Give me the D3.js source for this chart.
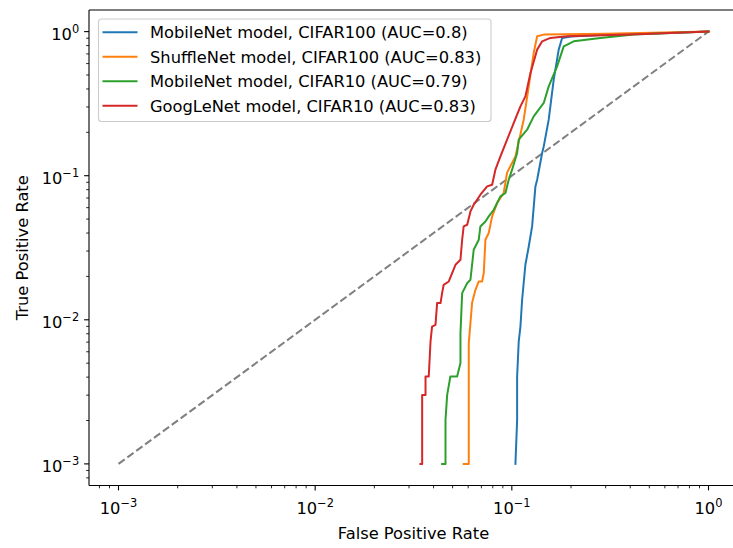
<!DOCTYPE html>
<html>
<head>
<meta charset="utf-8">
<script src="https://cdn.jsdelivr.net/npm/d3@7/dist/d3.min.js"></script>
<style>
  body { margin: 0; background: #fff; }
  svg { display: block; font-family: "DejaVu Sans", sans-serif; }
</style>
</head>
<body>
<svg id="chart" width="733" height="548"></svg>
<script>
// ROC curves (false positive rate, true positive rate), plotted on log-log axes
const seriesNames = [
  "MobileNet model, CIFAR100 (AUC=0.8)",
  "ShuffleNet model, CIFAR100 (AUC=0.83)",
  "MobileNet model, CIFAR10 (AUC=0.79)",
  "GoogLeNet model, CIFAR10 (AUC=0.83)"
];
const seriesColors = ["#1f77b4", "#ff7f0e", "#2ca02c", "#d62728"];

const mobilenetC100 = [
  [0.1043, 0.001], [0.1064, 0.00202], [0.1064, 0.00404], [0.1084, 0.00707],
  [0.1106, 0.00898], [0.1128, 0.01377], [0.1172, 0.02409], [0.1219, 0.03228],
  [0.1268, 0.04445], [0.1318, 0.0843], [0.1345, 0.0938], [0.1426, 0.1438],
  [0.1453, 0.1598], [0.1540, 0.2448], [0.1633, 0.4642], [0.1731, 0.7499],
  [0.1802, 0.9043], [0.2, 0.925], [0.3, 0.95], [0.5, 0.97], [1, 1]
];
const shufflenetC100 = [
  [0.0569, 0.001], [0.0604, 0.001], [0.0604, 0.00689], [0.0628, 0.01313],
  [0.0653, 0.01615], [0.0679, 0.01845], [0.0706, 0.01845], [0.0720, 0.0211],
  [0.0734, 0.03594], [0.0763, 0.0400], [0.0794, 0.05217], [0.0842, 0.06462],
  [0.0909, 0.07585], [0.0946, 0.105], [0.1043, 0.1361], [0.1149, 0.2448],
  [0.1219, 0.4170], [0.1292, 0.7112], [0.1345, 0.9278], [0.1453, 0.9532],
  [0.3, 0.965], [1, 1]
];
const mobilenetC10 = [
  [0.0442, 0.001], [0.0460, 0.001], [0.0460, 0.00202], [0.0469, 0.00301],
  [0.0487, 0.00404], [0.0527, 0.00404], [0.0548, 0.00501], [0.0548, 0.00808],
  [0.0559, 0.01532], [0.0593, 0.01798], [0.0616, 0.01896], [0.0640, 0.03063],
  [0.0679, 0.03594], [0.0692, 0.04445], [0.0734, 0.04815], [0.0763, 0.05217],
  [0.0809, 0.05806], [0.0875, 0.07184], [0.0928, 0.07585], [0.0964, 0.0938],
  [0.1003, 0.1101], [0.1064, 0.1438], [0.1084, 0.1778], [0.1196, 0.2086],
  [0.1292, 0.2581], [0.1453, 0.3198], [0.1540, 0.4170], [0.1699, 0.5741],
  [0.1836, 0.7903], [0.2064, 0.8562], [0.2821, 0.9043], [0.4166, 0.9532],
  [1, 1]
];
const googlenetC10 = [
  [0.0343, 0.001], [0.0350, 0.001], [0.0350, 0.00301], [0.0364, 0.00301],
  [0.0364, 0.00404], [0.0378, 0.00404], [0.0386, 0.00707], [0.0393, 0.00898],
  [0.0409, 0.00923], [0.0417, 0.01306], [0.0434, 0.01306], [0.0442, 0.01532],
  [0.0450, 0.01749], [0.0478, 0.01845], [0.0517, 0.02409], [0.0548, 0.0261],
  [0.0559, 0.03594], [0.0569, 0.04445], [0.0593, 0.04567], [0.0616, 0.0565],
  [0.0640, 0.06289], [0.0692, 0.07382], [0.0749, 0.08426], [0.0794, 0.0866],
  [0.0825, 0.1101], [0.0875, 0.1361], [0.0946, 0.1778], [0.1023, 0.2323],
  [0.1106, 0.3029], [0.1172, 0.3554], [0.1244, 0.5167], [0.1345, 0.7499],
  [0.1426, 0.8562], [0.1571, 0.9043], [0.1910, 0.9278], [0.4, 0.955],
  [1, 1]
];
const seriesData = [mobilenetC100, shufflenetC100, mobilenetC10, googlenetC10];

// chance line
const diagonal = [[0.001, 0.001], [1, 1]];

const majorTicks = [1e-3, 1e-2, 1e-1, 1];
const tickExponents = ["−3", "−2", "−1", "0"];

// layout
const plotLeft = 89, plotRight = 738, plotTop = 10, plotBottom = 485.5;
const pad = 0.05 * 3; // 5% margin in decades on each side
const fontSize = 16.3;

const x = d3.scaleLog()
  .domain([Math.pow(10, -3 - pad), Math.pow(10, pad)])
  .range([plotLeft, plotRight]);
const y = d3.scaleLog()
  .domain([Math.pow(10, -3 - pad), Math.pow(10, pad)])
  .range([plotBottom, plotTop]);

const svg = d3.select("#chart");

// minor ticks: 2..9 times each decade within the domain
const minorTicks = [];
for (let e = -4; e <= 0; e++) {
  for (let m = 2; m <= 9; m++) {
    const v = m * Math.pow(10, e);
    if (v > x.domain()[0] && v < x.domain()[1]) minorTicks.push(v);
  }
}

svg.append("defs").append("clipPath").attr("id", "plotArea")
  .append("rect").attr("x", plotLeft).attr("y", plotTop)
  .attr("width", plotRight - plotLeft).attr("height", plotBottom - plotTop);

const plot = svg.append("g").attr("clip-path", "url(#plotArea)");

const line = d3.line().x(d => x(d[0])).y(d => y(d[1]));

plot.append("path")
  .datum(diagonal)
  .attr("d", line)
  .attr("fill", "none")
  .attr("stroke", "#808080")
  .attr("stroke-width", 2)
  .attr("stroke-dasharray", "7.7,3.3");

seriesData.forEach((data, i) => {
  plot.append("path")
    .datum(data)
    .attr("d", line)
    .attr("fill", "none")
    .attr("stroke", seriesColors[i])
    .attr("stroke-width", 2)
    .attr("stroke-linejoin", "round")
    .attr("stroke-linecap", "square");
});

// axes frame
const frame = svg.append("g").attr("stroke", "#000").attr("stroke-width", 1.1);
frame.append("line").attr("x1", plotLeft).attr("x2", plotLeft).attr("y1", plotTop).attr("y2", plotBottom);
frame.append("line").attr("x1", plotLeft).attr("x2", plotRight).attr("y1", plotBottom).attr("y2", plotBottom);
frame.append("line").attr("x1", plotLeft).attr("x2", plotRight).attr("y1", plotTop).attr("y2", plotTop);
frame.append("line").attr("x1", plotRight).attr("x2", plotRight).attr("y1", plotTop).attr("y2", plotBottom);

// ticks
const ticks = svg.append("g").attr("stroke", "#000").attr("stroke-width", 1.1);
majorTicks.forEach(v => {
  ticks.append("line").attr("x1", x(v)).attr("x2", x(v)).attr("y1", plotBottom).attr("y2", plotBottom + 4.9);
  ticks.append("line").attr("x1", plotLeft).attr("x2", plotLeft - 4.9).attr("y1", y(v)).attr("y2", y(v));
});
const minorG = svg.append("g").attr("stroke", "#000").attr("stroke-width", 0.85);
minorTicks.forEach(v => {
  minorG.append("line").attr("x1", x(v)).attr("x2", x(v)).attr("y1", plotBottom).attr("y2", plotBottom + 2.8);
  minorG.append("line").attr("x1", plotLeft).attr("x2", plotLeft - 2.8).attr("y1", y(v)).attr("y2", y(v));
});

// tick labels with superscript exponents
function powerLabel(sel, exp) {
  sel.append("tspan").text("10");
  sel.append("tspan").attr("dy", -7).attr("font-size", (fontSize * 0.7) + "px").text(exp);
}
majorTicks.forEach((v, i) => {
  const tx = svg.append("text")
    .attr("x", x(v)).attr("y", 514)
    .attr("text-anchor", "middle")
    .attr("font-size", fontSize + "px").attr("fill", "#000");
  powerLabel(tx, tickExponents[i]);
  const ty = svg.append("text")
    .attr("x", plotLeft - 9.8).attr("y", y(v) + 8)
    .attr("text-anchor", "end")
    .attr("font-size", fontSize + "px").attr("fill", "#000");
  powerLabel(ty, tickExponents[i]);
});

// axis titles
svg.append("text")
  .attr("x", (plotLeft + plotRight) / 2).attr("y", 539)
  .attr("text-anchor", "middle").attr("font-size", fontSize + "px")
  .text("False Positive Rate");
svg.append("text")
  .attr("transform", `translate(28,${(plotTop + plotBottom) / 2}) rotate(-90)`)
  .attr("text-anchor", "middle").attr("font-size", fontSize + "px")
  .text("True Positive Rate");

// legend
const legend = svg.append("g");
legend.append("rect")
  .attr("x", 98.5).attr("y", 19).attr("width", 392.5).attr("height", 102.5)
  .attr("rx", 3).attr("fill", "#fff").attr("fill-opacity", 0.8)
  .attr("stroke", "#cccccc").attr("stroke-width", 1.1);
seriesNames.forEach((name, i) => {
  const cy = 32.3 + i * 24.45;
  legend.append("line")
    .attr("x1", 102.5).attr("x2", 137.5).attr("y1", cy).attr("y2", cy)
    .attr("stroke", seriesColors[i]).attr("stroke-width", 2);
  legend.append("text")
    .attr("x", 150).attr("y", cy + 6)
    .attr("font-size", fontSize + "px").attr("fill", "#000")
    .text(name);
});
</script>
</body>
</html>
